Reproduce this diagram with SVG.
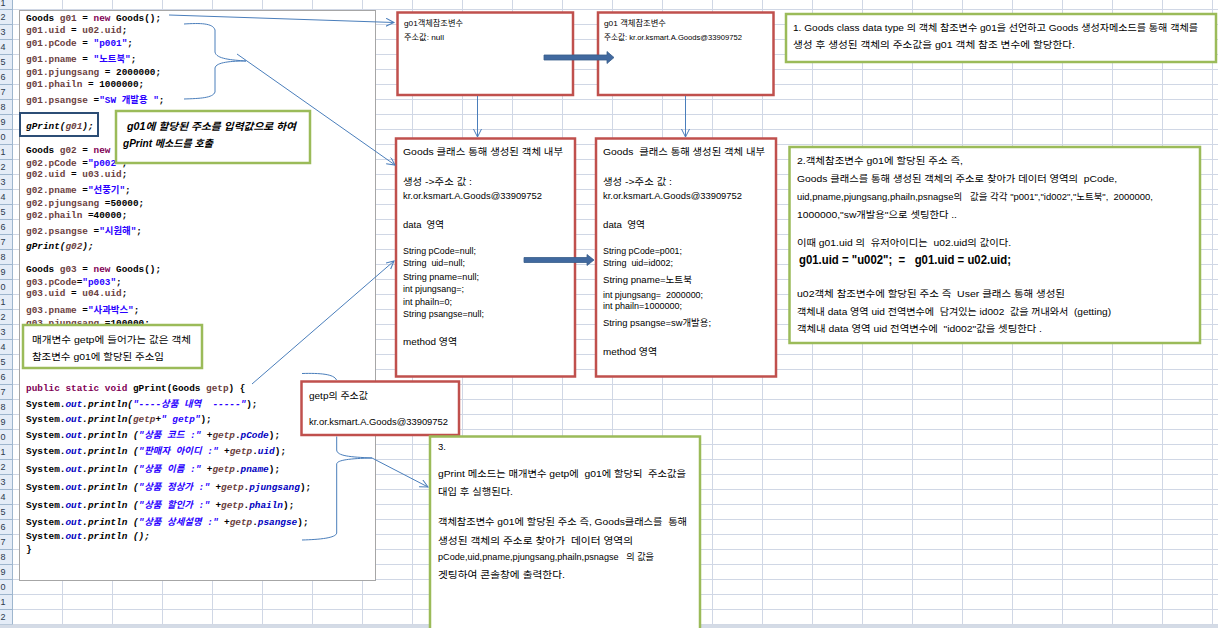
<svg xmlns="http://www.w3.org/2000/svg" width="1218" height="628" viewBox="0 0 1218 628">
<style>
.c{font-family:"Liberation Mono","DejaVu Sans Mono","Noto Sans CJK KR",monospace;font-size:9.4px;font-weight:bold;fill:#000;white-space:pre}
.v{fill:#6a3e3e}.k{fill:#7f0055}.s{fill:#2a00ff}.f{fill:#0000c0}.i{font-style:italic}
.t{font-family:"Liberation Sans","Noto Sans CJK KR",sans-serif;font-size:9.5px;fill:#000;white-space:pre}
.ts{font-family:"Liberation Sans","Noto Sans CJK KR",sans-serif;font-size:8px;fill:#000;white-space:pre}
.tb{font-family:"Liberation Sans","Noto Sans CJK KR",sans-serif;font-size:12.5px;font-weight:bold;fill:#000;white-space:pre}
.ti{font-family:"Liberation Sans","Noto Sans CJK KR",sans-serif;font-size:10px;font-style:italic;font-weight:bold;fill:#000;white-space:pre}
.rh{font-family:"Liberation Sans",sans-serif;font-size:9px;fill:#2b3a4e}
.red{fill:#fff;stroke:#c0504d;stroke-width:2.5}
.grn{fill:#fff;stroke:#9bbb59;stroke-width:2.5}
.ln{fill:none;stroke:#4a7ebb;stroke-width:1}
.thick{fill:#41699f;stroke:#385d8a;stroke-width:0.8}
</style>
<defs>
<pattern id="grid" x="12" y="9" width="50" height="15" patternUnits="userSpaceOnUse">
<path d="M0 0.5H50M0.5 0V15" stroke="#d0d7e5" stroke-width="1" fill="none"/>
</pattern>
<pattern id="hgrid" x="0" y="9" width="12" height="15" patternUnits="userSpaceOnUse">
<path d="M0 0.5H12" stroke="#9eb6ce" stroke-width="1" fill="none"/>
</pattern>
<marker id="ah" markerWidth="10" markerHeight="10" refX="8" refY="4" orient="auto" markerUnits="userSpaceOnUse">
<path d="M0,0 L8,4 L0,8" fill="none" stroke="#4a7ebb" stroke-width="1"/>
</marker>
</defs>

<g id="sheet">
<rect x="0" y="0" width="1218" height="628" fill="#fff"/>
<rect x="12" y="0" width="1206" height="625" fill="url(#grid)"/>
<rect x="0" y="0" width="12" height="625" fill="#e4ecf7"/>
<rect x="0" y="0" width="12" height="625" fill="url(#hgrid)"/>
<line x1="12.5" y1="0" x2="12.5" y2="625" stroke="#9eb6ce"/>
<rect x="0" y="624.5" width="1218" height="3.5" fill="#d4dbe6"/>
<g id="row-numbers">
<text class="rh" x="0.5" y="6">1</text><text class="rh" x="0.5" y="20">2</text><text class="rh" x="0.5" y="35">3</text><text class="rh" x="0.5" y="50">4</text><text class="rh" x="0.5" y="65">5</text><text class="rh" x="0.5" y="80">6</text><text class="rh" x="0.5" y="95">7</text><text class="rh" x="0.5" y="110">8</text><text class="rh" x="0.5" y="125">9</text><text class="rh" x="0.5" y="140">0</text><text class="rh" x="0.5" y="155">1</text><text class="rh" x="0.5" y="170">2</text><text class="rh" x="0.5" y="185">3</text><text class="rh" x="0.5" y="200">4</text><text class="rh" x="0.5" y="215">5</text><text class="rh" x="0.5" y="230">6</text><text class="rh" x="0.5" y="245">7</text><text class="rh" x="0.5" y="260">8</text><text class="rh" x="0.5" y="275">9</text><text class="rh" x="0.5" y="290">0</text><text class="rh" x="0.5" y="305">1</text><text class="rh" x="0.5" y="320">2</text><text class="rh" x="0.5" y="335">3</text><text class="rh" x="0.5" y="350">4</text><text class="rh" x="0.5" y="365">5</text><text class="rh" x="0.5" y="380">6</text><text class="rh" x="0.5" y="395">7</text><text class="rh" x="0.5" y="410">8</text><text class="rh" x="0.5" y="425">9</text><text class="rh" x="0.5" y="440">0</text><text class="rh" x="0.5" y="455">1</text><text class="rh" x="0.5" y="470">2</text><text class="rh" x="0.5" y="485">3</text><text class="rh" x="0.5" y="500">4</text><text class="rh" x="0.5" y="515">5</text><text class="rh" x="0.5" y="530">6</text><text class="rh" x="0.5" y="545">7</text><text class="rh" x="0.5" y="560">8</text><text class="rh" x="0.5" y="575">9</text><text class="rh" x="0.5" y="590">0</text><text class="rh" x="0.5" y="605">1</text><text class="rh" x="0.5" y="620">2</text>
</g>
</g>

<g id="code-panel">
<rect x="19.5" y="10.5" width="356" height="570" fill="#fff" stroke="#a6a6a6" stroke-width="1"/>
<text class="c" x="26" y="21">Goods <tspan class="v">g01</tspan> = <tspan class="k">new</tspan> Goods();</text>
<text class="c" x="26" y="33.3"><tspan class="v">g01.uid</tspan> = <tspan class="v">u02.uid</tspan>;</text>
<text class="c" x="26" y="45.6"><tspan class="v">g01.pCode</tspan> = <tspan class="s">"p001"</tspan>;</text>
<text class="c" x="26" y="61.6"><tspan class="v">g01.pname</tspan> = <tspan class="s">"노트북"</tspan>;</text>
<text class="c" x="26" y="75"><tspan class="v">g01.pjungsang</tspan> = 2000000;</text>
<text class="c" x="26" y="87.3"><tspan class="v">g01.phailn</tspan> = 1000000;</text>
<text class="c" x="26" y="102.6"><tspan class="v">g01.psangse</tspan> =<tspan class="s">"SW 개발용 "</tspan>;</text>
<text class="c i" x="26" y="129.3">gPrint(<tspan class="v">g01</tspan>);</text>
<text class="c" x="26" y="153.3">Goods <tspan class="v">g02</tspan> = <tspan class="k">new</tspan></text>
<text class="c" x="26" y="165.6"><tspan class="v">g02.pCode</tspan> =<tspan class="s">"p002"</tspan>;</text>
<text class="c" x="26" y="177.3"><tspan class="v">g02.uid</tspan> = <tspan class="v">u03.uid</tspan>;</text>
<text class="c" x="26" y="192.6"><tspan class="v">g02.pname</tspan> =<tspan class="s">"선풍기"</tspan>;</text>
<text class="c" x="26" y="206"><tspan class="v">g02.pjungsang</tspan> =50000;</text>
<text class="c" x="26" y="218.3"><tspan class="v">g02.phailn</tspan> =40000;</text>
<text class="c" x="26" y="234"><tspan class="v">g02.psangse</tspan> =<tspan class="s">"시원해"</tspan>;</text>
<text class="c i" x="26" y="248.6">gPrint(<tspan class="v">g02</tspan>);</text>
<text class="c" x="26" y="272.3">Goods <tspan class="v">g03</tspan> = <tspan class="k">new</tspan> Goods();</text>
<text class="c" x="26" y="284.6"><tspan class="v">g03.pCode</tspan>=<tspan class="s">"p003"</tspan>;</text>
<text class="c" x="26" y="296.3"><tspan class="v">g03.uid</tspan> = <tspan class="v">u04.uid</tspan>;</text>
<text class="c" x="26" y="312.6"><tspan class="v">g03.pname</tspan> =<tspan class="s">"사과박스"</tspan>;</text>
<text class="c" x="26" y="325.6"><tspan class="v">g03.pjungsang</tspan> =100000;</text>
<text class="c" x="26" y="391"><tspan class="k">public static void</tspan> gPrint(Goods <tspan class="v">getp</tspan>) {</text>
<text class="c" x="26" y="407">System.<tspan class="f i">out</tspan><tspan class="i">.println(</tspan><tspan class="s i">"----상품 내역  -----"</tspan>);</text>
<text class="c" x="26" y="421.6">System.<tspan class="f i">out</tspan><tspan class="i">.println(</tspan><tspan class="v i">getp</tspan>+<tspan class="s i">" getp"</tspan>);</text>
<text class="c" x="26" y="437.6">System.<tspan class="f i">out</tspan><tspan class="i">.println (</tspan><tspan class="s i">"상품 코드 :"</tspan> +<tspan class="v i">getp</tspan>.<tspan class="f i">pCode</tspan>);</text>
<text class="c" x="26" y="454.3">System.<tspan class="f i">out</tspan><tspan class="i">.println (</tspan><tspan class="s i">"판매자 아이디 :"</tspan> +<tspan class="v i">getp</tspan>.<tspan class="f i">uid</tspan>);</text>
<text class="c" x="26" y="472">System.<tspan class="f i">out</tspan><tspan class="i">.println (</tspan><tspan class="s i">"상품 이름 :"</tspan> +<tspan class="v i">getp</tspan>.<tspan class="f i">pname</tspan>);</text>
<text class="c" x="26" y="490">System.<tspan class="f i">out</tspan><tspan class="i">.println (</tspan><tspan class="s i">"상품 정상가 :"</tspan> +<tspan class="v i">getp</tspan>.<tspan class="f i">pjungsang</tspan>);</text>
<text class="c" x="26" y="507.6">System.<tspan class="f i">out</tspan><tspan class="i">.println (</tspan><tspan class="s i">"상품 할인가 :"</tspan> +<tspan class="v i">getp</tspan>.<tspan class="f i">phailn</tspan>);</text>
<text class="c" x="26" y="525.3">System.<tspan class="f i">out</tspan><tspan class="i">.println (</tspan><tspan class="s i">"상품 상세설명 :"</tspan> +<tspan class="v i">getp</tspan>.<tspan class="f i">psangse</tspan>);</text>
<text class="c" x="26" y="539.3">System.<tspan class="f i">out</tspan><tspan class="i">.println ();</tspan></text>
<text class="c" x="26" y="551.6">}</text>
</g>

<g id="call-box">
<rect x="20" y="113" width="78" height="23" fill="none" stroke="#2c4d75" stroke-width="2"/>
</g>

<g id="note-call">
<rect class="grn" x="116" y="111" width="194" height="52"/>
<text class="ti" x="127" y="129.5" textLength="169" lengthAdjust="spacingAndGlyphs">g01에 할당된 주소를 입력값으로 하여</text>
<text class="ti" x="123" y="146.5" textLength="90" lengthAdjust="spacingAndGlyphs">gPrint 메소드를 호출</text>
</g>

<g id="note-param">
<rect class="grn" x="23" y="325" width="179" height="43"/>
<text class="t" x="32" y="342.5" textLength="159" lengthAdjust="spacingAndGlyphs">매개변수 getp에 들어가는 값은 객체</text>
<text class="t" x="32" y="359.5" textLength="132" lengthAdjust="spacingAndGlyphs">참조변수 g01에 할당된 주소임</text>
</g>

<g id="box-ref-null">
<rect class="red" x="397.5" y="12.5" width="175.5" height="82.5"/>
<text class="ts" x="404" y="26" textLength="59" lengthAdjust="spacingAndGlyphs">g01객체참조변수</text>
<text class="ts" x="404" y="40.3" textLength="40" lengthAdjust="spacingAndGlyphs">주소값: null</text>
</g>

<g id="box-ref-addr">
<rect class="red" x="598" y="12.5" width="175.5" height="82.5"/>
<text class="ts" x="604" y="26" textLength="62" lengthAdjust="spacingAndGlyphs">g01 객체참조변수</text>
<text class="ts" x="604" y="40" textLength="138" lengthAdjust="spacingAndGlyphs">주소값: kr.or.ksmart.A.Goods@33909752</text>
</g>

<g id="box-obj-empty">
<rect class="red" x="396" y="138.5" width="179" height="238"/>
<text class="t" x="403" y="154.5" textLength="160" lengthAdjust="spacingAndGlyphs">Goods 클래스 통해 생성된 객체 내부</text>
<text class="t" x="403" y="184.5" textLength="69" lengthAdjust="spacingAndGlyphs">생성 -&gt;주소 값 :</text>
<text class="t" x="403" y="199.2" textLength="139" lengthAdjust="spacingAndGlyphs">kr.or.ksmart.A.Goods@33909752</text>
<text class="t" x="403" y="227.5" textLength="41" lengthAdjust="spacingAndGlyphs">data  영역</text>
<text class="t" x="403" y="254.2" textLength="73" lengthAdjust="spacingAndGlyphs">String pCode=null;</text>
<text class="t" x="403" y="266.2" textLength="62" lengthAdjust="spacingAndGlyphs">String  uid=null;</text>
<text class="t" x="403" y="279.5" textLength="76" lengthAdjust="spacingAndGlyphs">String pname=null;</text>
<text class="t" x="403" y="291.8" textLength="61" lengthAdjust="spacingAndGlyphs">int pjungsang=;</text>
<text class="t" x="403" y="304.5" textLength="49" lengthAdjust="spacingAndGlyphs">int phailn=0;</text>
<text class="t" x="403" y="316.8" textLength="81" lengthAdjust="spacingAndGlyphs">String psangse=null;</text>
<text class="t" x="403" y="345.2" textLength="54" lengthAdjust="spacingAndGlyphs">method 영역</text>
</g>

<g id="box-obj-set">
<rect class="red" x="596" y="138.5" width="180" height="238"/>
<text class="t" x="603" y="154.5" textLength="162" lengthAdjust="spacingAndGlyphs">Goods  클래스 통해 생성된 객체 내부</text>
<text class="t" x="603" y="184.5" textLength="69" lengthAdjust="spacingAndGlyphs">생성 -&gt;주소 값 :</text>
<text class="t" x="603" y="199.2" textLength="139" lengthAdjust="spacingAndGlyphs">kr.or.ksmart.A.Goods@33909752</text>
<text class="t" x="603" y="227.5" textLength="42" lengthAdjust="spacingAndGlyphs">data  영역</text>
<text class="t" x="603" y="254.2" textLength="79" lengthAdjust="spacingAndGlyphs">String pCode=p001;</text>
<text class="t" x="603" y="266.2" textLength="70" lengthAdjust="spacingAndGlyphs">String  uid=id002;</text>
<text class="t" x="603" y="282.5" textLength="89" lengthAdjust="spacingAndGlyphs">String pname=노트북</text>
<text class="t" x="603" y="297.5" textLength="100" lengthAdjust="spacingAndGlyphs">int pjungsang=  2000000;</text>
<text class="t" x="603" y="309.2" textLength="79" lengthAdjust="spacingAndGlyphs">int phailn=1000000;</text>
<text class="t" x="603" y="325.8" textLength="108" lengthAdjust="spacingAndGlyphs">String psangse=sw개발용;</text>
<text class="t" x="603" y="355.2" textLength="54" lengthAdjust="spacingAndGlyphs">method 영역</text>
</g>

<g id="note-1">
<rect class="grn" x="786" y="14" width="430" height="48"/>
<text class="t" x="793" y="30.5" textLength="405" lengthAdjust="spacingAndGlyphs">1. Goods class data type 의 객체 참조변수 g01을 선언하고 Goods 생성자메소드를 통해 객체를</text>
<text class="t" x="793" y="47.5" textLength="282" lengthAdjust="spacingAndGlyphs">생성 후 생성된 객체의 주소값을 g01 객체 참조 변수에 할당한다.</text>
</g>

<g id="note-2">
<rect class="grn" x="789.5" y="147" width="410.5" height="196"/>
<text class="t" x="797" y="164" textLength="166" lengthAdjust="spacingAndGlyphs">2.객체참조변수 g01에 할당된 주소 즉,</text>
<text class="t" x="797" y="181.8" textLength="320" lengthAdjust="spacingAndGlyphs">Goods 클래스를 통해 생성된 객체의 주소로 찾아가 데이터 영역의  pCode,</text>
<text class="t" x="797" y="200.2" textLength="356" lengthAdjust="spacingAndGlyphs">uid,pname,pjungsang,phailn,psnagse의   값을 각각 "p001","id002","노트북",  2000000,</text>
<text class="t" x="797" y="217.5" textLength="160" lengthAdjust="spacingAndGlyphs">1000000,"sw개발용"으로 셋팅한다 ..</text>
<text class="t" x="797" y="246.2" textLength="214" lengthAdjust="spacingAndGlyphs">이때 g01.uid 의  유저아이디는  u02.uid의 값이다.</text>
<text class="tb" x="799" y="263.8" textLength="212" lengthAdjust="spacingAndGlyphs">g01.uid = "u002";  =   g01.uid = u02.uid;</text>
<text class="t" x="797" y="296.8" textLength="268" lengthAdjust="spacingAndGlyphs">u02객체 참조변수에 할당된 주소 즉  User 클래스 통해 생성된</text>
<text class="t" x="797" y="315.2" textLength="314" lengthAdjust="spacingAndGlyphs">객체내 data 영역 uid 전역변수에  담겨있는 id002  값을 꺼내와서  (getting)</text>
<text class="t" x="797" y="331.8" textLength="245" lengthAdjust="spacingAndGlyphs">객체내 data 영역 uid 전역변수에  "id002"값을 셋팅한다 .</text>
</g>

<g id="box-getp">
<rect class="red" x="301.5" y="381.5" width="157.5" height="53.5"/>
<text class="t" x="309" y="398.5" textLength="59" lengthAdjust="spacingAndGlyphs">getp의 주소값</text>
<text class="t" x="309" y="425.2" textLength="139" lengthAdjust="spacingAndGlyphs">kr.or.ksmart.A.Goods@33909752</text>
</g>

<g id="note-3">
<rect class="grn" x="430" y="436.5" width="270" height="200"/>
<text class="t" x="438" y="449.5">3.</text>
<text class="t" x="438" y="476.8" textLength="248" lengthAdjust="spacingAndGlyphs">gPrint 메소드는 매개변수 getp에  g01에 할당되  주소값을</text>
<text class="t" x="438" y="495.2" textLength="75" lengthAdjust="spacingAndGlyphs">대입 후 실행된다.</text>
<text class="t" x="438" y="525.2" textLength="249" lengthAdjust="spacingAndGlyphs">객체참조변수 g01에 할당된 주소 즉, Goods클래스를  통해</text>
<text class="t" x="438" y="543.5" textLength="195" lengthAdjust="spacingAndGlyphs">생성된 객체의 주소로 찾아가  데이터 영역의</text>
<text class="t" x="438" y="560.2" textLength="216" lengthAdjust="spacingAndGlyphs">pCode,uid,pname,pjungsang,phailn,psnagse   의 값을</text>
<text class="t" x="438" y="577.5" textLength="127" lengthAdjust="spacingAndGlyphs">겟팅하여 콘솔창에 출력한다.</text>
</g>

<g id="connectors">
<line class="ln" x1="169" y1="15" x2="394" y2="22.5" marker-end="url(#ah)"/>
<path class="ln" d="M184,24 C200,23 213,23 215,30 L215,52 C216,59 232,60 246,61 C232,61 216,62 215,68 L215,92 C213,98 200,98.5 184,99"/>
<line class="ln" x1="237" y1="54" x2="395" y2="165" marker-end="url(#ah)"/>
<line class="ln" x1="252" y1="384" x2="394" y2="261" marker-end="url(#ah)"/>
<line class="ln" x1="477.5" y1="96" x2="477.5" y2="137" marker-end="url(#ah)"/>
<line class="ln" x1="685.5" y1="96" x2="685.5" y2="137" marker-end="url(#ah)"/>
<path class="ln" d="M302,373.5 C320,373 334,374 336.5,380"/>
<path class="ln" d="M336.7,436.5 L336.7,450 C337,456 350,457 372,458 C350,458.5 337,460 336.7,464 L336.7,533 C336,538 320,539.5 302,540"/>
<line class="ln" x1="372" y1="458" x2="428" y2="487" marker-end="url(#ah)"/>
<polygon class="thick" points="544,55 607,55 607,51.5 614,57.5 607,63.5 607,60 544,60"/>
<polygon class="thick" points="524,257.5 587,257.5 587,254.5 594,260 587,265.5 587,262.5 524,262.5"/>
</g>
</svg>
